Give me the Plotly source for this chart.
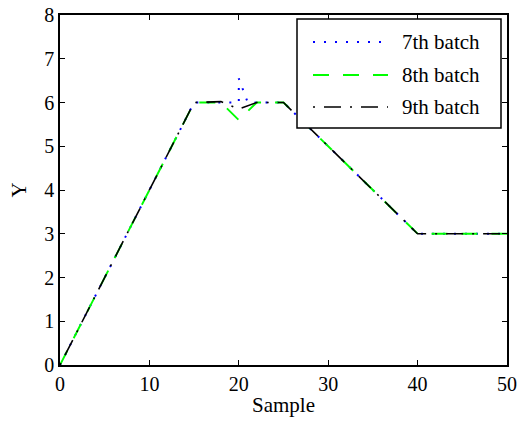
import plotly.graph_objects as go

# Batch trajectories (vertices of each piecewise-linear profile)
batch7_x = [0, 15, 19, 20, 20, 21, 25, 40, 50]
batch7_y = [0, 6, 6, 6, 6.55, 6, 6, 3, 3]

batch8_x = [0, 15, 18, 20, 22, 25, 40, 50]
batch8_y = [0, 6, 6, 5.6, 6, 6, 3, 3]

batch9_x = [0, 15, 18, 20, 22, 25, 40, 50]
batch9_y = [0, 6, 6.02, 5.85, 6, 6, 3, 3]

names = ["7th batch", "8th batch", "9th batch"]
colors = ["#0000ff", "#00ff00", "#000000"]
dashes = ["2px,9px", "16px,14px", "2px,9px,17px,9px"]
widths = [2, 1.9, 1.6]

x_ticks = [0, 10, 20, 30, 40, 50]
y_ticks = [0, 1, 2, 3, 4, 5, 6, 7, 8]

FONT = "Liberation Serif"
W, H = 519, 421
L, R, T, B = 60, 12, 15, 56
PW, PH = W - L - R, H - T - B

fig = go.Figure()
series = [(batch7_x, batch7_y), (batch8_x, batch8_y), (batch9_x, batch9_y)]
for (xs, ys), name, c, d, w in zip(series, names, colors, dashes, widths):
    fig.add_trace(go.Scatter(x=xs, y=ys, mode="lines", name=name,
                             line=dict(color=c, dash=d, width=w),
                             showlegend=False))


def px_x(p):
    return (p - L) / PW


def px_y(p):
    return (H - B - p) / PH


# Boxed legend with long line samples
shapes = [dict(type="rect", xref="paper", yref="paper",
               x0=px_x(297), x1=px_x(501), y0=px_y(128), y1=px_y(19),
               line=dict(color="black", width=1.5), fillcolor="white", layer="above")]
annotations = []
row_y = [42, 75, 107]
for name, c, d, w, ry in zip(names, colors, dashes, widths, row_y):
    shapes.append(dict(type="line", xref="paper", yref="paper",
                       x0=px_x(313), x1=px_x(388), y0=px_y(ry), y1=px_y(ry),
                       line=dict(color=c, dash=d, width=w), layer="above"))
    annotations.append(dict(x=px_x(400), y=px_y(ry), xref="paper", yref="paper",
                            text=name, showarrow=False, xanchor="left", yanchor="middle",
                            font=dict(family=FONT, size=21, color="black")))

axis_common = dict(showline=True, linecolor="black", linewidth=1.5, mirror="ticks",
                   ticks="inside", ticklen=5, tickcolor="black", showgrid=False,
                   zeroline=False, automargin=False,
                   tickfont=dict(family=FONT, size=20, color="black"))

fig.update_layout(
    width=W, height=H,
    margin=dict(l=L, r=R, t=T, b=B),
    paper_bgcolor="white", plot_bgcolor="white",
    font=dict(family=FONT),
    xaxis=dict(range=[0, 50], tickvals=x_ticks,
               title=dict(text="Sample", font=dict(family=FONT, size=21, color="black"), standoff=4),
               **axis_common),
    yaxis=dict(range=[0, 8], tickvals=y_ticks,
               title=dict(text="Y", font=dict(family=FONT, size=21, color="black"), standoff=12),
               **axis_common),
    shapes=shapes,
    annotations=annotations,
)

fig.write_html("out.html")
